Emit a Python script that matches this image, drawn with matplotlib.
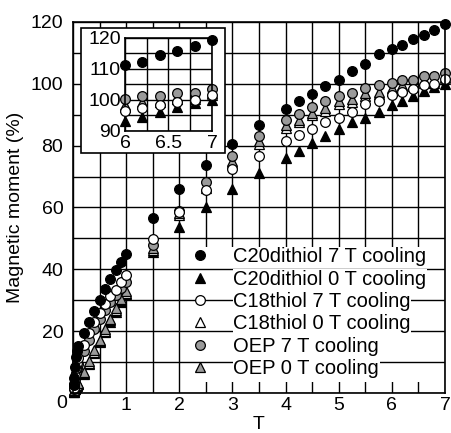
import matplotlib
matplotlib.use('Agg')
import matplotlib.pyplot as plt
from matplotlib.ticker import MultipleLocator
from matplotlib.patches import Rectangle
import numpy as np

plt.rcParams['font.family'] = ['Liberation Sans', 'DejaVu Sans']

# magnetic field (T)
field = [0.01, 0.02, 0.04, 0.06, 0.08, 0.1, 0.2, 0.3, 0.4, 0.5, 0.6, 0.7, 0.8, 0.9, 1.0,
         1.5, 2.0, 2.5, 3.0, 3.5, 4.0, 4.25, 4.5, 4.75, 5.0, 5.25, 5.5, 5.75,
         6.0, 6.2, 6.4, 6.6, 6.8, 7.0]

c20_7t = [2.5, 5.0, 8.5, 11.5, 13.5, 15.3, 19.3, 23.1, 26.5, 30.1, 33.5, 36.8, 39.8, 42.3, 45.0,
          56.7, 65.9, 73.8, 80.4, 86.7, 91.7, 94.3, 96.7, 99.3, 101.4, 104.3, 106.4, 109.5,
          111.4, 112.4, 114.4, 115.8, 117.4, 119.2]
c20_0t = [0.3, 0.7, 1.2, 1.8, 2.3, 2.8, 6.2, 9.5, 13.0, 16.4, 19.8, 23.0, 26.3, 29.5, 32.0,
          45.7, 53.6, 60.3, 65.9, 71.3, 75.9, 78.4, 80.7, 83.0, 85.5, 87.8, 88.9, 91.0,
          93.3, 94.6, 96.2, 97.8, 98.9, 100.0]
c18_7t = [1.5, 3.0, 5.5, 8.0, 9.8, 11.2, 15.5, 19.5, 23.1, 26.0, 28.8, 31.4, 33.3, 35.8, 38.2,
          49.7, 58.5, 65.7, 72.5, 76.6, 81.6, 83.4, 85.3, 87.5, 89.1, 91.0, 93.5, 94.3,
          96.3, 97.3, 98.4, 99.5, 100.0, 101.6]
c18_0t = [0.4, 0.8, 1.3, 1.9, 2.5, 3.0, 6.5, 9.8, 13.4, 16.8, 20.2, 23.5, 26.9, 30.0, 32.4,
          46.2, 57.6, 66.3, 74.5, 80.6, 85.8, 87.5, 89.8, 91.3, 93.4, 94.2, 96.0, 96.8,
          97.6, 98.6, 99.3, 100.3, 100.2, 101.5]
oep_7t = [1.2, 2.5, 4.5, 6.5, 8.0, 9.5, 13.5, 17.3, 20.8, 23.8, 26.8, 29.5, 31.8, 34.0, 36.0,
          47.9, 59.0, 68.3, 76.5, 83.0, 88.3, 90.2, 92.6, 94.3, 96.0, 97.0, 98.5, 99.6,
          100.4, 101.3, 101.3, 102.4, 102.4, 103.4]
oep_0t = [0.5, 0.9, 1.5, 2.1, 2.7, 3.3, 6.9, 10.2, 13.9, 17.3, 20.7, 24.0, 27.4, 30.5, 32.9,
          46.8, 58.1, 66.9, 75.2, 81.4, 86.7, 88.3, 90.7, 92.1, 94.3, 95.0, 96.9, 97.5,
          98.5, 99.5, 100.0, 101.1, 100.9, 102.2]

labels = ['C20dithiol 7 T cooling', 'C20dithiol 0 T cooling', 'C18thiol 7 T cooling',
          'C18thiol 0 T cooling', 'OEP 7 T cooling', 'OEP 0 T cooling']

gray = '#9a9a9a'
series = [
    (c20_7t, 'o', 'black', 3.0),
    (c20_0t, '^', 'black', 2.1),
    (c18_7t, 'o', 'white', 2.6),
    (c18_0t, '^', 'white', 2.2),
    (oep_7t, 'o', gray, 2.5),
    (oep_0t, '^', gray, 2.3),
]

fig = plt.figure(figsize=(4.52, 4.33), dpi=100)
ax = fig.add_axes([0.1615, 0.0924, 0.823, 0.8568])

x = np.array(field)
handles = []
for (vals, mk, fc, z), lab in zip(series, labels):
    h, = ax.plot(x, vals, linestyle='none', marker=mk, markersize=7,
                 markerfacecolor=fc, markeredgecolor='black', markeredgewidth=0.9,
                 label=lab, zorder=z, clip_on=False)
    handles.append(h)

ax.set_xlim(0, 7)
ax.set_ylim(0, 120)
ax.set_xticks(range(8))
ax.set_xticklabels([''] + [str(i) for i in range(1, 8)])
ax.set_yticks(range(0, 121, 20))
ax.set_yticklabels([''] + [str(i) for i in range(20, 121, 20)])
ax.xaxis.set_minor_locator(MultipleLocator(0.5))
ax.yaxis.set_minor_locator(MultipleLocator(10))
ax.grid(True, which='both', color='black', linewidth=1.0)
ax.tick_params(which='both', length=0, labelsize=14)
ax.tick_params(axis='x', pad=3)
ax.tick_params(axis='y', pad=7)
# vertical grid below the legend box, horizontal grid above it
ax.xaxis.set_zorder(0.5)
ax.yaxis.set_zorder(1.5)
for s in ax.spines.values():
    s.set_linewidth(1.2)
    s.set_zorder(6)
ax.text(-0.03, -0.028, '0', transform=ax.transAxes, ha='center', va='center', fontsize=14)
ax.set_xlabel('T', fontsize=14, labelpad=1)
ax.set_ylabel('Magnetic moment (%)', fontsize=14, labelpad=5)

leg = ax.legend(handles=handles, loc='upper left', bbox_to_anchor=(0.3145, 0.393),
                frameon=False, fontsize=14.5, handlelength=1.0, handletextpad=1.15,
                labelspacing=0.17, borderpad=0, borderaxespad=0)
leg.set_zorder(5)
for t in leg.get_texts():
    t.set_bbox(dict(facecolor='white', edgecolor='none', pad=0.5))

fig.canvas.draw()
bb = leg.get_window_extent().transformed(ax.transAxes.inverted())
ax.add_patch(Rectangle((bb.x0, bb.y0 - 0.01), 0.995 - bb.x0, bb.height + 0.01,
                       transform=ax.transAxes, facecolor='white', edgecolor='none',
                       zorder=1))

# inset box and inset axes
box = Rectangle((0.1792, 0.6467), 0.3186, 0.2887, transform=fig.transFigure,
                facecolor='white', edgecolor='black', linewidth=1.2, zorder=1)
fig.add_artist(box)

axi = fig.add_axes([0.2765, 0.6975, 0.1925, 0.2148])
axi.set_zorder(2)
mask = x >= 6.0
for vals, mk, fc, z in series:
    axi.plot(x[mask], np.array(vals)[mask], linestyle='none', marker=mk, markersize=7,
             markerfacecolor=fc, markeredgecolor='black', markeredgewidth=0.9,
             zorder=z, clip_on=False)
axi.set_xlim(6, 7)
axi.set_ylim(90, 120)
axi.set_xticks([6, 6.5, 7])
axi.set_xticklabels(['6', '6.5', '7'])
axi.set_yticks([90, 100, 110, 120])
axi.xaxis.set_minor_locator(MultipleLocator(0.25))
axi.yaxis.set_minor_locator(MultipleLocator(5))
axi.grid(True, which='both', color='black', linewidth=1.0)
axi.set_axisbelow(True)
axi.tick_params(which='both', length=0, labelsize=14, pad=3)
for s in axi.spines.values():
    s.set_linewidth(1.2)

fig.savefig('out.png', dpi=100)
